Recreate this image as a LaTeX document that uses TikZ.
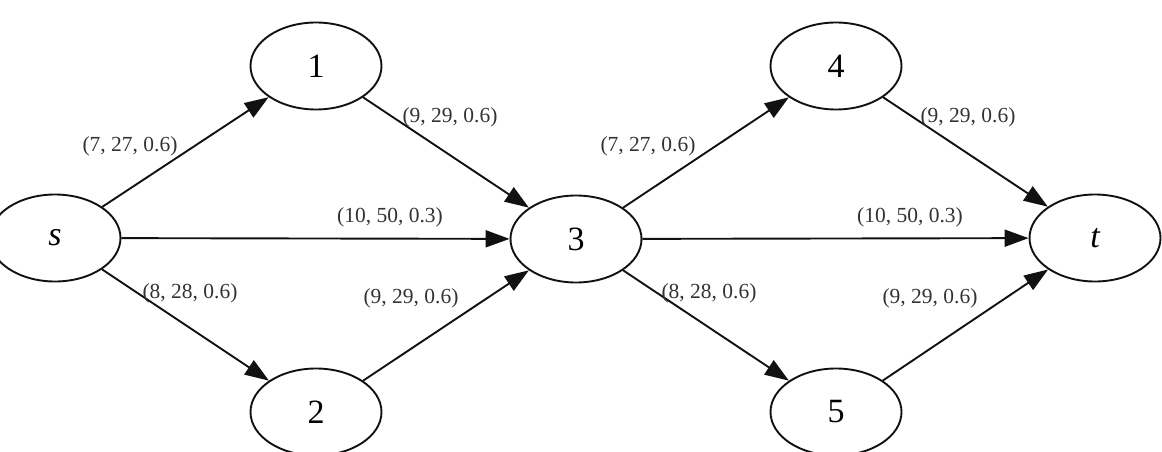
\documentclass[tikz,border=0pt]{standalone}
\usepackage{fontspec}
\setmainfont{Liberation Serif}
\usetikzlibrary{arrows.meta,shapes.geometric}
\definecolor{ink}{HTML}{111111}
\definecolor{labelink}{HTML}{333333}

\begin{document}
\begin{tikzpicture}[
  x=1pt, y=-1pt,
  >={Triangle[length=24pt,width=17pt]},
  state/.style={
    ellipse,
    draw=ink,
    line width=1.9pt,
    minimum width=131pt,
    minimum height=87pt,
    inner sep=0pt,
    font=\fontsize{34}{40}\selectfont
  },
  flow/.style={
    ->,
    draw=ink,
    line width=1.9pt
  },
  weight/.style={
    inner sep=1pt,
    text=labelink,
    font=\fontsize{21.5}{25}\selectfont
  }
]
\useasboundingbox (0,0) rectangle (1162,452);

% vertices of the network
\node[state] (s)  at (55,238)   {\itshape s};
\node[state] (n1) at (316,66)   {1};
\node[state] (n2) at (316,412)  {2};
\node[state] (n3) at (576,239)  {3};
\node[state] (n4) at (836,66)   {4};
\node[state] (n5) at (836,412)  {5};
\node[state] (t)  at (1095,238) {\itshape t};

% arcs, centre to centre
\draw[flow] (s) -- (n1);
\draw[flow] (s) -- (n3);
\draw[flow] (s) -- (n2);
\draw[flow] (n1) -- (n3);
\draw[flow] (n2) -- (n3);
\draw[flow] (n3) -- (n4);
\draw[flow] (n3) -- (t);
\draw[flow] (n3) -- (n5);
\draw[flow] (n4) -- (t);
\draw[flow] (n5) -- (t);

% arc weights
\node[weight] (w-s1)  at (130,146) {(7, 27, 0.6)};
\node[weight] (w-s3)  at (390,217) {(10, 50, 0.3)};
\node[weight] (w-s2)  at (190,293) {(8, 28, 0.6)};
\node[weight] (w-13)  at (450,117) {(9, 29, 0.6)};
\node[weight] (w-23)  at (411,298) {(9, 29, 0.6)};
\node[weight] (w-34)  at (648,146) {(7, 27, 0.6)};
\node[weight] (w-3t)  at (910,217) {(10, 50, 0.3)};
\node[weight] (w-35)  at (709,293) {(8, 28, 0.6)};
\node[weight] (w-4t)  at (968,117) {(9, 29, 0.6)};
\node[weight] (w-5t)  at (930,298) {(9, 29, 0.6)};

\end{tikzpicture}
\end{document}
